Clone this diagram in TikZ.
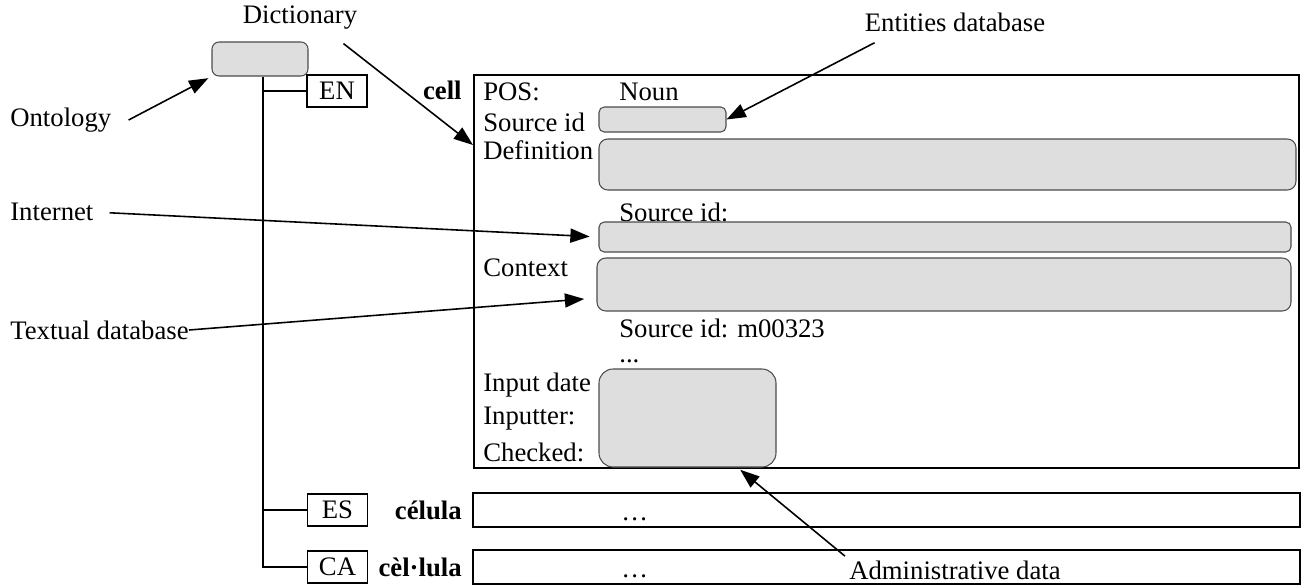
\documentclass[tikz,border=0pt]{standalone}
\usepackage{fontspec}
\setmainfont{Liberation Serif}
\usetikzlibrary{arrows.meta,positioning,fit}

\begin{document}
\begin{tikzpicture}[x=0.02cm, y=-0.02cm,
    font=\fontsize{15.2}{17}\selectfont,
    graybox/.style={draw=black!70, fill=black!13, line width=0.6pt, inner sep=0pt},
    framebox/.style={draw, line width=1.1pt, inner sep=0pt},
    langbox/.style={draw, line width=1.1pt, minimum width=1.2cm,
        minimum height=0.64cm, inner sep=0pt},
    lbl/.style={inner sep=0pt},
    hw/.style={inner sep=0pt, anchor=east,
        font=\fontsize{15.2}{17}\selectfont\bfseries},
    arr/.style={-{Triangle[length=11pt, width=8pt]}, line width=0.9pt},
    tree/.style={line width=1.1pt}
]
    \useasboundingbox (0,0) rectangle (1302,585);

    % dictionary root
    \node[lbl] (dictlbl) at (300,18) {Dictionary};
    \node[graybox, rounded corners=4pt, fit={(212,42) (308,76)}] (dictbox) {};
    \node[lbl, anchor=west] (onto) at (10,120) {Ontology};
    \draw[arr, shorten >=2pt] ([xshift=0.34cm]onto.east) -- (dictbox.south west);

    % languages
    \node[langbox] (en) at (337,91) {EN};
    \node[langbox] (es) at (337.5,510) {ES};
    \node[langbox] (ca) at (337.5,567) {CA};
    \coordinate (stem) at ([xshift=0.06cm]dictbox.south);
    \draw[tree] (stem) |- (ca.west);
    \draw[tree] (stem |- en.west) -- (en.west);
    \draw[tree] (stem |- es.west) -- (es.west);

    \node[hw] (hwen) at (462,90) {cell};
    \node[hw] (hwes) at (462,510) {célula};
    \node[hw] (hwca) at (462,567) {cèl·lula};

    % entries
    \node[framebox, fit={(474,75) (1299,468)}] (cellbox) {};
    \node[framebox, fit={(473,493) (1300,527)}] (esrow) {};
    \node[framebox, fit={(473,550) (1300,584)}] (carow) {};
    \node[lbl, anchor=base west] (esdots) at (621,520) {…};
    \node[lbl, anchor=base west] (cadots) at (621,577) {…};

    % fields of the EN entry
    \node[lbl, anchor=west] (pos) at (483,92) {POS:};
    \node[lbl, anchor=west] (noun) at (619,92) {Noun};
    \node[lbl, anchor=west] (srclbl) at (483,122) {Source id};
    \node[lbl, anchor=west] (deflbl) at (483,150) {Definition};
    \node[lbl, anchor=west] (defsrc) at (619,212) {Source id:};
    \node[lbl, anchor=west] (ctxlbl) at (483,268) {Context};
    \node[lbl, anchor=west] (ctxsrc) at (619,328) {Source id: m00323};
    \node[lbl, anchor=base west] (more) at (619,362) {...};
    \node[lbl, anchor=west] (inpdate) at (483,385) {Input date};
    \node[lbl, anchor=west] (inputter) at (483,419) {Inputter:};
    \node[lbl, anchor=west] (checked) at (483,452) {Checked:};

    \node[graybox, rounded corners=3pt, fit={(599,107) (726,132)}] (srcbox) {};
    \node[graybox, rounded corners=5pt, fit={(599,139) (1296,190)}] (defbox) {};
    \node[graybox, rounded corners=3pt, fit={(599,222) (1291,252)}] (inetbox) {};
    \node[graybox, rounded corners=5pt, fit={(597,258) (1291,311)}] (ctxbox) {};
    \node[graybox, rounded corners=8pt, fit={(599,369) (776,467)}] (admbox) {};

    % sources
    \node[lbl] (entlbl) at (955,22) {Entities database};
    \node[lbl, anchor=west] (inet) at (10,212) {Internet};
    \node[lbl, anchor=west] (textdb) at (10,330) {Textual database};
    \node[lbl, anchor=base] (admlbl) at (955,579) {Administrative data};

    \draw[arr] ([xshift=-0.28cm,yshift=-0.27cm]dictlbl.south east)
        -- ([xshift=-0.2cm,yshift=0.1cm]deflbl.west);
    \draw[arr] ([xshift=0.2cm,yshift=-0.22cm]entlbl.south west) -- (srcbox.east);
    \draw[arr, shorten <=9pt, shorten >=5pt] (inet.east) -- (inetbox.west);
    \draw[arr, shorten >=7pt] (textdb.east) -- ([yshift=-0.27cm]ctxbox.west);
    \draw[arr, shorten >=2pt] ([xshift=-0.08cm,yshift=0.08cm]admlbl.north west)
        -- ([xshift=1cm]admbox.south);
\end{tikzpicture}
\end{document}
